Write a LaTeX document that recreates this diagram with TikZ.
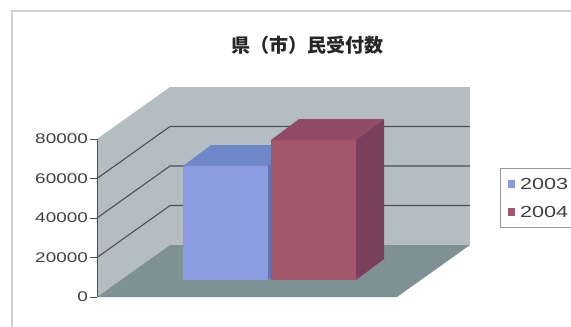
\documentclass[tikz,border=0pt]{standalone}
\usepackage{fontspec}
\newfontfamily\cjk{Noto Sans CJK JP}
\newfontfamily\numfont{Liberation Sans}[FakeStretch=1.35]
\definecolor{wall}{HTML}{B3BDC2}
\definecolor{floorgray}{HTML}{7E9195}
\definecolor{gridgray}{HTML}{4A5056}
\definecolor{framegray}{HTML}{CFCFCF}
\definecolor{blueface}{HTML}{8C9CE0}
\definecolor{bluetop}{HTML}{6F87C6}
\definecolor{blueside}{HTML}{5F73B0}
\definecolor{redface}{HTML}{A5566F}
\definecolor{redtop}{HTML}{914B66}
\definecolor{redside}{HTML}{7A3F5E}

\begin{document}
\begin{tikzpicture}[x=1pt,y=-1pt,
  ticklabel/.style={font=\numfont\fontsize{14}{14}\selectfont,text=black!75,anchor=east,inner sep=0pt},
  legendlabel/.style={font=\numfont\fontsize{16}{16}\selectfont,text=black!75,anchor=west,inner sep=0pt}]
\def\xF{97}
\def\xB{170}
\def\xR{470}
\def\yZero{297}
\def\yTop{139}
\def\dx{73}
\def\dy{52}
\def\step{39.5}
\def\bx{28}
\def\by{21}
\useasboundingbox (0,0) rectangle (571,327);
\draw[framegray,line width=1.5pt] (12,327) -- (12,11) -- (571,11);

\path (307,45) node[font=\cjk\bfseries\fontsize{19}{19}\selectfont,text=black!85] (title) {県（市）民受付数};

% walls and floor
\fill[wall] (\xF,\yZero) -- (\xF,\yTop) -- (\xB,\yTop-\dy) -- (\xB,\yZero-\dy) -- cycle;
\fill[wall] (\xB,\yTop-\dy) rectangle (\xR,\yZero-\dy);
\fill[floorgray] (\xF,\yZero) -- (\xB,\yZero-\dy) -- (\xR,\yZero-\dy) -- (\xR-\dx,\yZero) -- cycle;

\begin{scope}[every path/.style={draw=gridgray,line width=1.1pt}]
\foreach \v in {1,2,3}
  \path (\xF,{\yZero-\v*\step}) -- (\xB,{\yZero-\v*\step-\dy}) -- (\xR,{\yZero-\v*\step-\dy});
\end{scope}

% axis
\draw[gridgray,line width=0.6pt] (\xF,\yTop) -- (\xF,\yZero);
\foreach \v/\lab in {0/0,1/20000,2/40000,3/60000,4/80000} {
  \draw[gridgray,line width=0.8pt] (\xF-7,{\yZero-\v*\step}) -- (\xF,{\yZero-\v*\step});
  \path (\xF-9,{\yZero-\v*\step}) node[ticklabel] (tick\v) {\lab};
}

% 2003
\fill[blueface] (183,280) rectangle (268,166);
\fill[bluetop] (183,166) -- (183+\bx,166-\by) -- (268+\bx,166-\by) -- (268,166) -- cycle;
\fill[blueside] (268,166) -- (268+\bx,166-\by) -- (268+\bx,280-\by) -- (268,280) -- cycle;
% 2004
\fill[redface] (271,280) rectangle (356,140);
\fill[redtop] (271,140) -- (271+\bx,140-\by) -- (356+\bx,140-\by) -- (356,140) -- cycle;
\fill[redside] (356,140) -- (356+\bx,140-\by) -- (356+\bx,280-\by) -- (356,280) -- cycle;

% legend
\draw[black!40,fill=white,line width=0.8pt] (500,168) rectangle (585,227);
\fill[blueface] (508,180) rectangle (515,188);
\fill[redface] (508,208) rectangle (515,216);
\path
(520,184) node[legendlabel] (y2003) {2003}
(520,212) node[legendlabel] (y2004) {2004}
;
\end{tikzpicture}
\end{document}
